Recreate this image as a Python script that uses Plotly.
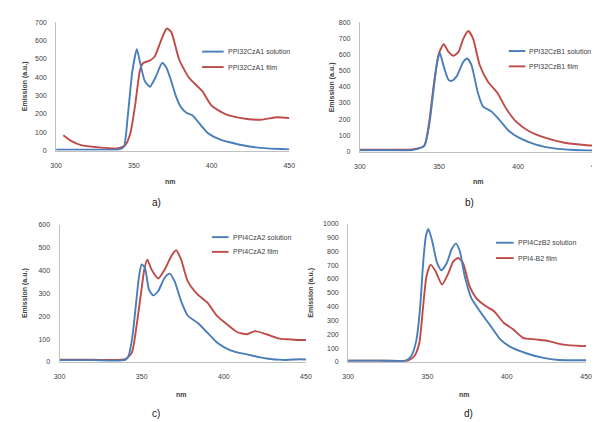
import plotly.graph_objects as go

# ---------------- data ----------------
# Panel a) PPI32CzA1
a_sol_x = [300, 320, 340, 343.5, 346, 349, 351.9, 354, 357, 360.3, 364, 368.2, 371, 374, 377, 380, 384, 387.6, 392, 398, 406.5, 414.9, 425.4, 436, 450]
a_sol_y = [5, 5, 6, 20, 180, 430, 552, 480, 380, 348, 400, 477, 450, 380, 298, 240, 205, 193, 150, 93, 57, 39, 21, 12, 7]
a_film_x = [304.6, 309.9, 316, 326.7, 339, 344.5, 347.7, 350.8, 354, 356, 360.3, 363.4, 367.6, 371.2, 374, 379.2, 385.5, 393.9, 400, 408.6, 419, 431.7, 442, 450]
a_film_y = [84, 52, 30, 18, 12, 30, 93, 246, 441, 477, 491, 513, 602, 665, 647, 495, 397, 325, 245, 200, 177, 168, 182, 177]

# Panel b) PPI32CzB1
b_sol_x = [300, 320, 333, 340.6, 343.7, 346.8, 348.9, 350.5, 353, 356, 358, 361, 365.4, 367.8, 370.5, 374.6, 377.7, 382.9, 388, 394.2, 400.4, 410.7, 423, 435.5, 447.8, 450]
b_sol_y = [8, 8, 9, 35, 157, 402, 555, 610, 525, 443, 437, 463, 555, 575, 535, 361, 280, 249, 198, 127, 86, 45, 20, 10, 6, 5]
b_film_x = [300, 320, 333, 340.6, 343.7, 346.8, 349.9, 353, 356, 359.2, 362.3, 365.4, 368.5, 371.5, 375.7, 380.8, 387, 392.2, 398.4, 406.6, 416.9, 429.3, 441.6, 450]
b_film_y = [12, 12, 13, 35, 178, 422, 606, 663, 616, 592, 616, 698, 745, 698, 535, 433, 361, 269, 188, 127, 86, 55, 41, 35]

# Panel c) PPI4CzA2
c_sol_x = [300, 320, 340, 342, 344.4, 346.4, 348.4, 350, 352, 354.4, 357, 360, 364, 367, 370, 374, 378, 384, 390, 396, 404, 414, 426, 436, 446, 450]
c_sol_y = [8, 8, 9, 26, 113, 244, 375, 426, 411, 317, 291, 309, 368, 386, 353, 266, 203, 171, 128, 84, 51, 33, 15, 9, 12, 11]
c_film_x = [300, 320, 340, 344, 347, 349.6, 351.6, 353.4, 356, 360, 364, 368, 371, 374, 378, 384, 390, 396, 402, 408, 414, 419, 426, 434, 440, 446, 450]
c_film_y = [10, 10, 12, 41, 164, 302, 404, 447, 404, 365, 404, 462, 488, 447, 353, 295, 259, 200, 164, 131, 121, 135, 121, 102, 99, 96, 96]

# Panel d) PPI4CzB2
d_sol_x = [300, 320, 336.7, 339.8, 342.9, 345.3, 347.3, 349, 350.6, 353, 356.1, 358.8, 362.2, 365.3, 368, 370.4, 373.5, 377.6, 383.7, 389.8, 395.9, 402, 412.2, 422.4, 432.7, 446.9, 450]
d_sol_y = [10, 10, 12, 43, 151, 380, 716, 909, 962, 873, 716, 663, 716, 817, 856, 800, 620, 464, 356, 260, 163, 111, 63, 31, 14, 12, 12]
d_film_x = [300, 320, 338, 341.8, 344.9, 347.3, 349.4, 352, 355.1, 359.2, 363.3, 366.3, 369.4, 372.4, 376.5, 380.6, 386.7, 391.8, 398, 404, 410.2, 418.4, 426.5, 434.7, 446.9, 450]
d_film_y = [10, 10, 12, 43, 139, 404, 620, 704, 656, 560, 644, 728, 752, 716, 548, 464, 404, 368, 284, 236, 175, 163, 151, 127, 115, 115]

x_ticks = [300, 350, 400, 450]
legend_names = [
    ("PPI32CzA1 solution", "PPI32CzA1 film"),
    ("PPI32CzB1 solution", "PPI32CzB1 film"),
    ("PPI4CzA2 solution", "PPI4CzA2 film"),
    ("PPI4CzB2 solution", "PPI4-B2 film"),
]
panel_labels = ["a)", "b)", "c)", "d)"]
y_max = [700, 800, 600, 1000]
y_step = [100, 100, 100, 100]

# ---------------- layout geometry (pixels of the reference) ----------------
# The page body has an 8px margin, so the figure is 592x414 and every
# reference pixel position is shifted by 8px.
OFF = 8
W, H = 600 - OFF, 422 - OFF
BLUE = "#4a7ebb"
RED = "#be4b48"
FONT = "Liberation Sans"
TXT = "#404040"

def px(x):
    return (x - OFF) / W

def py(y):
    return 1 - (y - OFF) / H

# (x_left, x_right, y_top, y_bottom, x_range_end)
panels = [
    (51, 289, 18.3, 149, 450),
    (361, 600, 18.3, 150, 300 + (600 - 361) / 80.8 * 50),
    (54.5, 306, 224.3, 364, 450),
    (349, 592, 223.3, 364, 450),
]
series = [
    (a_sol_x, a_sol_y, a_film_x, a_film_y),
    (b_sol_x, b_sol_y, b_film_x, b_film_y),
    (c_sol_x, c_sol_y, c_film_x, c_film_y),
    (d_sol_x, d_sol_y, d_film_x, d_film_y),
]
# legend: line x0, x1, y_sol, y_film
legends = [
    (200, 222, 48.3, 64),
    (513, 530, 47.7, 63.3),
    (210, 227, 237, 252),
    (500, 518, 242.7, 258.3),
]
ylabel_x = [20, 332, 20, 311]
nm_pos = [(168, 180), (482, 180), (179, 397), (468, 397)]
lab_pos = [(153, 202), (473, 202), (153, 416), (472, 416)]

fig = go.Figure()
layout = dict(
    width=W, height=H, margin=dict(l=0, r=0, t=0, b=0),
    paper_bgcolor="white", plot_bgcolor="white", showlegend=False,
    font=dict(family=FONT, color=TXT, size=7),
)
shapes = []
annotations = []

for i, (x0, x1, yt, yb, xend) in enumerate(panels):
    n = "" if i == 0 else str(i + 1)
    sx, sy, fx, fy = series[i]
    fig.add_trace(go.Scatter(x=fx, y=fy, mode="lines", name=legend_names[i][1],
                             line=dict(color=RED, width=1.9, shape="spline", smoothing=0.6),
                             xaxis="x" + n, yaxis="y" + n, cliponaxis=True))
    fig.add_trace(go.Scatter(x=sx, y=sy, mode="lines", name=legend_names[i][0],
                             line=dict(color=BLUE, width=1.9, shape="spline", smoothing=0.6),
                             xaxis="x" + n, yaxis="y" + n, cliponaxis=True))
    layout["xaxis" + n] = dict(
        domain=[px(x0), px(x1)], range=[300, xend], anchor="y" + n,
        tickvals=x_ticks, showgrid=False, zeroline=False,
        showline=True, linecolor="#c0c0c0", linewidth=1,
        ticks="", ticklabelstandoff=8, tickfont=dict(size=7, color=TXT, family=FONT),
    )
    layout["yaxis" + n] = dict(
        domain=[py(yb), py(yt)], range=[0, y_max[i]], anchor="x" + n,
        dtick=y_step[i], tick0=0, showgrid=False, zeroline=False,
        showline=True, linecolor="#c0c0c0", linewidth=1,
        ticks="", ticklabelstandoff=7, tickfont=dict(size=7, color=TXT, family=FONT),
    )
    # legend
    lx0, lx1, ys, yf = legends[i]
    for (yy, col, txt) in [(ys, BLUE, legend_names[i][0]), (yf, RED, legend_names[i][1])]:
        shapes.append(dict(type="line", xref="paper", yref="paper",
                           x0=px(lx0), x1=px(lx1), y0=py(yy), y1=py(yy),
                           line=dict(color=col, width=1.9)))
        annotations.append(dict(text=txt, xref="paper", yref="paper",
                                x=px(lx1 + 2), y=py(yy), xanchor="left", yanchor="middle",
                                showarrow=False, font=dict(size=7, color=TXT, family=FONT)))
    # y title
    annotations.append(dict(text="<b>Emission (a.u.)</b>", xref="paper", yref="paper",
                            x=px(ylabel_x[i]), y=py((yt + yb) / 2), textangle=-90,
                            xanchor="center", yanchor="middle", showarrow=False,
                            font=dict(size=7, color=TXT, family=FONT)))
    # x title
    annotations.append(dict(text="<b>nm</b>", xref="paper", yref="paper",
                            x=px(nm_pos[i][0]), y=py(nm_pos[i][1]),
                            xanchor="center", yanchor="middle", showarrow=False,
                            font=dict(size=7, color=TXT, family=FONT)))
    # panel label
    annotations.append(dict(text=panel_labels[i], xref="paper", yref="paper",
                            x=px(lab_pos[i][0]), y=py(lab_pos[i][1]),
                            xanchor="center", yanchor="middle", showarrow=False,
                            font=dict(size=10, color="#202020", family=FONT)))

# partially visible "450" tick of panel b (cut by the picture edge)
annotations.append(dict(text="450", xref="paper", yref="paper", x=px(603), y=py(164),
                        xanchor="center", yanchor="middle", showarrow=False,
                        font=dict(size=7, color=TXT, family=FONT)))

layout["shapes"] = shapes
layout["annotations"] = annotations
fig.update_layout(**layout)
fig.write_html("out.html")
